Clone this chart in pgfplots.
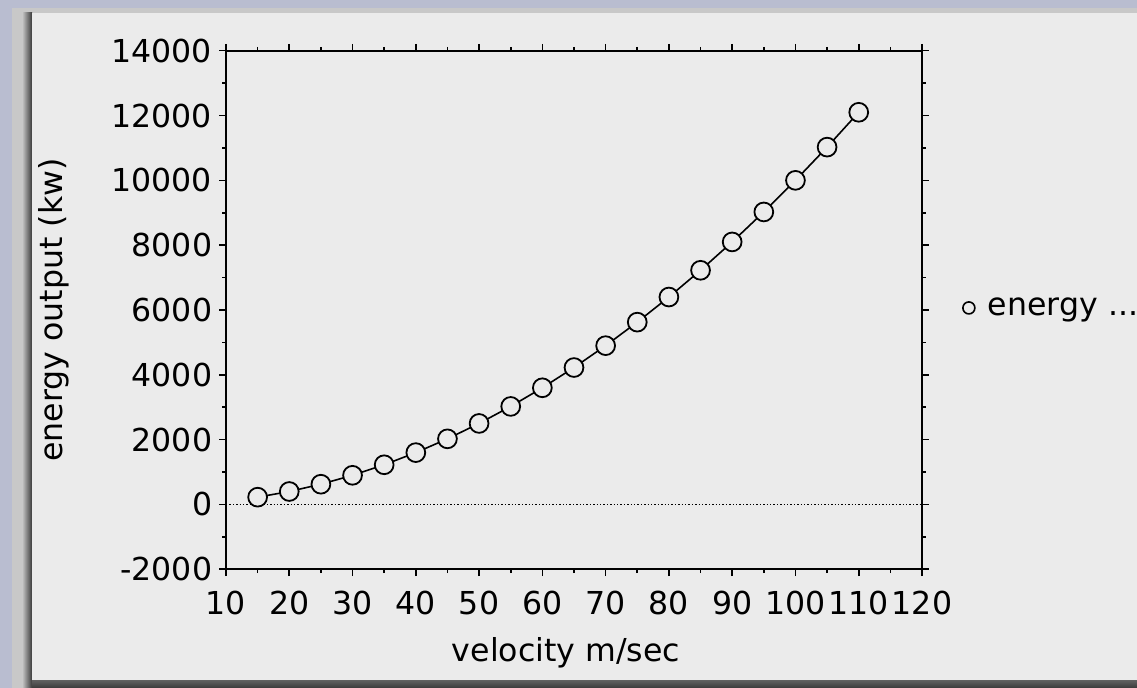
\documentclass[border=0pt]{standalone}
\usepackage{fontspec}
\setmainfont{DejaVu Sans}
\usepackage{pgfplots}
\pgfplotsset{compat=1.18}
\definecolor{bgc}{HTML}{B9BDD0}
\definecolor{framec}{HTML}{C8C8C8}
\definecolor{panelc}{HTML}{EBEBEB}
\definecolor{shadowc}{HTML}{3A3A3A}
\pgfplotstableread{
v e
15 225
20 400
25 625
30 900
35 1225
40 1600
45 2025
50 2500
55 3025
60 3600
65 4225
70 4900
75 5625
80 6400
85 7225
90 8100
95 9025
100 10000
105 11025
110 12100
}\energydata
\begin{document}
\begin{tikzpicture}[x=0.5pt,y=-0.5pt]
\fill[bgc] (0,0) rectangle (1137,688);
\fill[framec] (12,8) rectangle (1137,688);
\shade[left color=framec, right color=shadowc] (22,13) rectangle (32,688);
\shade[top color=shadowc!80!white, bottom color=shadowc] (32,680) rectangle (1137,688);
\fill[panelc] (32,13) rectangle (1137,680);
\coordinate (O) at (226,569.3);
\begin{axis}[
  at={(O)}, anchor=south west,
  width=348pt, height=259.3pt, scale only axis,
  xmin=10, xmax=120, ymin=-2000, ymax=14000,
  xtick={10,20,...,120}, minor x tick num=1,
  ytick={-2000,0,...,14000}, minor y tick num=1,
  tick align=outside,
  major tick length=3.4pt, minor tick length=1.9pt,
  tick style={black, line width=0.8pt},
  axis line style={line width=1pt},
  every tick label/.append style={font=\fontsize{15.8}{18}\selectfont},
  xticklabel style={yshift=-4pt},
  /pgf/number format/assume math mode=true,
  /pgf/number format/1000 sep={},
  scaled ticks=false,
  xlabel={velocity m/sec}, ylabel={energy output (kw)},
  every axis x label/.style={at={(rel axis cs:0.4885,-0.161)}, anchor=center, font=\fontsize{15.8}{18}\selectfont},
  every axis y label/.style={at={(rel axis cs:-0.247,0.5)}, rotate=90, anchor=center, font=\fontsize{15.8}{18}\selectfont},
  legend style={draw=none, fill=none, at={(rel axis cs:1.057,0.504)}, anchor=west, inner sep=0pt, font=\fontsize{15.8}{18}\selectfont},
  legend image code/.code={\draw[line width=0.8pt, fill=panelc] (3pt,0cm) circle (3pt); \path[draw=none, fill=none] (0pt,0pt) rectangle (10.5pt,0.1pt);},
]
\addplot[densely dotted, line width=0.7pt, forget plot] coordinates {(10,0) (120,0)};
\addplot[black, line width=0.8pt, mark=*, mark size=4.7pt, mark options={fill=panelc, draw=black, line width=0.9pt}] table[x=v, y=e] {\energydata};
\addlegendentry{energy ...}
\end{axis}
\pgfresetboundingbox
\useasboundingbox (0,0) rectangle (1137,688);
\end{tikzpicture}
\end{document}
